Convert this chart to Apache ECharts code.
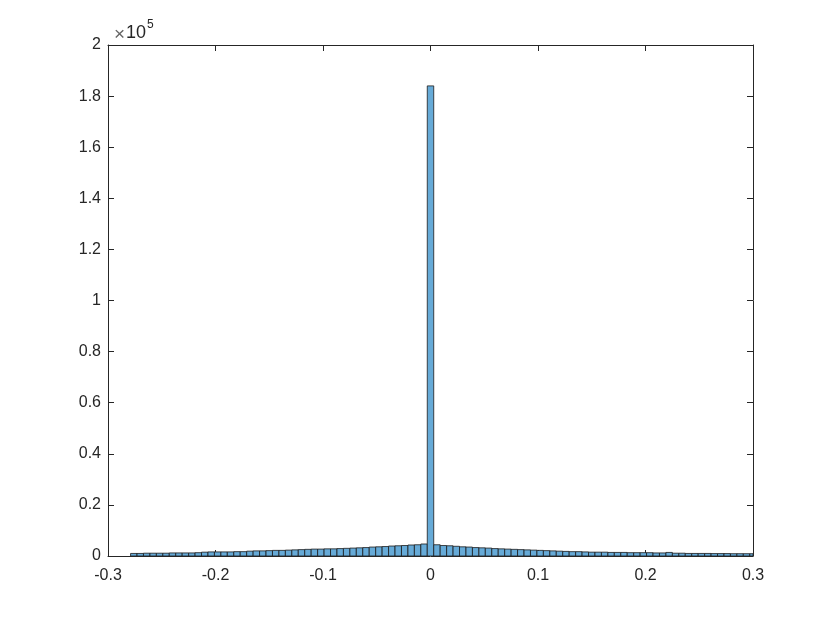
<!DOCTYPE html>
<html>
<head>
<meta charset="utf-8">
<script src="https://cdn.jsdelivr.net/npm/echarts@6/dist/echarts.min.js"></script>
<style>
  html, body { margin: 0; padding: 0; background: #fff; }
  #main { width: 830px; height: 623px; }
</style>
</head>
<body>
<div id="main"></div>
<script>
// histogram bins: first left edge and bin width
var binStart = -0.279;
var binWidth = 0.006;
// counts per bin, left to right (center bin is the spike at 0)
var counts = [
  1000, 1000, 1100, 1100, 1100, 1100, 1200, 1200, 1200, 1200,
  1300, 1500, 1600, 1600, 1600, 1600, 1700, 1700, 1900, 2000,
  2000, 2100, 2200, 2200, 2300, 2400, 2500, 2600, 2700, 2700,
  2800, 2800, 2900, 3000, 3100, 3200, 3300, 3500, 3600, 3700,
  3900, 4000, 4100, 4300, 4400, 4700,
  184000,
  4400, 4100, 4000, 3800, 3600, 3500, 3300, 3200, 3100, 2900,
  2800, 2700, 2600, 2500, 2400, 2300, 2200, 2100, 2000, 1900,
  1800, 1700, 1700, 1600, 1500, 1500, 1500, 1400, 1400, 1400,
  1300, 1300, 1300, 1300, 1200, 1200, 1400, 1100, 1100, 1000,
  1000, 1000, 1000, 950, 950, 950, 900, 900, 900, 900, 900
];
var xTicks = [-0.3, -0.2, -0.1, 0, 0.1, 0.2, 0.3];
var yTicks = [0, 0.2, 0.4, 0.6, 0.8, 1, 1.2, 1.4, 1.6, 1.8, 2]; // x 10^5

var bins = [];
for (var i = 0; i < counts.length; i++) {
  var lo = binStart + i * binWidth;
  bins.push([lo, lo + binWidth, counts[i]]);
}

var axisColor = '#262626';
var font = 'Liberation Sans, Arial, sans-serif';

function frameAxis(extra) {
  var a = {
    axisLine: { show: true, onZero: false, lineStyle: { color: axisColor, width: 1 } },
    axisTick: { show: true, inside: true, length: 6, lineStyle: { color: axisColor } },
    splitLine: { show: false }
  };
  for (var k in extra) a[k] = extra[k];
  return a;
}

var myChart = echarts.init(document.getElementById('main'));
var option = {
  animation: false,
  backgroundColor: '#fff',
  grid: { left: 108, right: 77, top: 45, bottom: 67, containLabel: false },
  // exponent label above the y axis
  graphic: [
    { type: 'text', left: 114, top: 25, style: { text: '×', font: '19px ' + font, fill: '#666' } },
    { type: 'text', left: 126, top: 24, style: { text: '10', font: '18px ' + font, fill: axisColor } },
    { type: 'text', left: 147, top: 19, style: { text: '5', font: '12px ' + font, fill: axisColor } }
  ],
  xAxis: [
    frameAxis({
      type: 'value', min: -0.3, max: 0.3, interval: 0.1, position: 'bottom',
      axisLabel: {
        color: axisColor, fontSize: 16, fontFamily: font, margin: 12,
        formatter: function (v) {
          var r = Math.round(v * 10) / 10;
          return xTicks.indexOf(r) >= 0 ? String(r) : '';
        }
      }
    }),
    frameAxis({
      type: 'value', min: -0.3, max: 0.3, interval: 0.1, position: 'top',
      axisLabel: { show: false }
    })
  ],
  yAxis: [
    frameAxis({
      type: 'value', min: 0, max: 200000, interval: 20000, position: 'left',
      axisLabel: {
        color: axisColor, fontSize: 16, fontFamily: font, margin: 7,
        formatter: function (v) {
          var r = Math.round(v / 1e5 * 10) / 10;
          return yTicks.indexOf(r) >= 0 ? String(r) : '';
        }
      }
    }),
    frameAxis({
      type: 'value', min: 0, max: 200000, interval: 20000, position: 'right',
      axisLabel: { show: false }
    })
  ],
  series: [
    {
      type: 'custom',
      clip: true,
      data: bins,
      encode: { x: [0, 1], y: 2 },
      renderItem: function (params, api) {
        var p0 = api.coord([api.value(0), api.value(2)]);
        var p1 = api.coord([api.value(1), 0]);
        var rect = echarts.graphic.clipRectByRect(
          { x: p0[0], y: p0[1], width: p1[0] - p0[0], height: p1[1] - p0[1] },
          { x: params.coordSys.x, y: params.coordSys.y, width: params.coordSys.width, height: params.coordSys.height }
        );
        return rect && {
          type: 'rect',
          shape: rect,
          style: { fill: '#66aad7', stroke: '#1a1a1a', lineWidth: 0.8 }
        };
      }
    }
  ]
};
myChart.setOption(option);
</script>
</body>
</html>
